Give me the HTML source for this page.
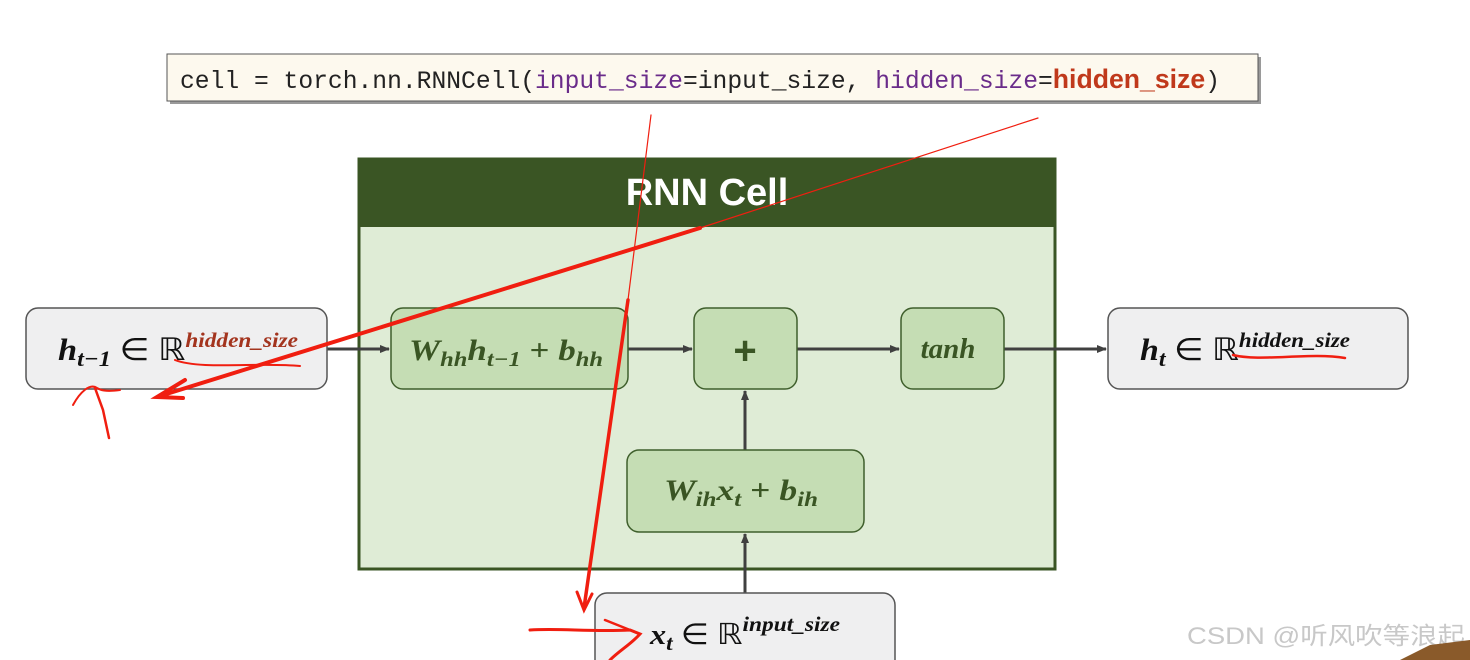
<!DOCTYPE html>
<html><head><meta charset="utf-8"><style>
html,body{margin:0;padding:0;background:#fff;width:1470px;height:660px;overflow:hidden}
svg{display:block}
.m{font-family:"Liberation Serif",serif;font-weight:bold;font-style:italic}
</style></head><body>
<svg width="1470" height="660" viewBox="0 0 1470 660" xmlns="http://www.w3.org/2000/svg">
<defs>
<marker id="ar" markerWidth="10" markerHeight="10" refX="9" refY="5" orient="auto" markerUnits="userSpaceOnUse"><path d="M0,1 L10,5 L0,9 Z" fill="#404040"/></marker>
</defs>
<rect x="170" y="57" width="1091" height="47" fill="#9a9a9a"/>
<rect x="167" y="54" width="1091" height="47" fill="#fdf9ee" stroke="#555" stroke-width="1"/>
<text x="180" y="88" font-family="'Liberation Mono',monospace" font-size="25" fill="#222" textLength="1040" lengthAdjust="spacingAndGlyphs">cell = torch.nn.RNNCell(<tspan fill="#6a2c8a">input_size</tspan>=input_size, <tspan fill="#6a2c8a">hidden_size</tspan>=<tspan fill="#c0391b" font-family="'Liberation Sans',sans-serif" font-weight="bold" font-size="27">hidden_size</tspan>)</text>
<rect x="359" y="159" width="696" height="410" fill="#dfecd6" stroke="#3a5524" stroke-width="3"/>
<rect x="359" y="159" width="696" height="68" fill="#3a5524"/>
<text x="707" y="205" text-anchor="middle" font-family="'Liberation Sans',sans-serif" font-weight="bold" font-size="38" fill="#fff">RNN Cell</text>
<g stroke="#404040" stroke-width="3" fill="none">
<line x1="327" y1="349" x2="389" y2="349" marker-end="url(#ar)"/>
<line x1="628" y1="349" x2="692" y2="349" marker-end="url(#ar)"/>
<line x1="797" y1="349" x2="899" y2="349" marker-end="url(#ar)"/>
<line x1="1004" y1="349" x2="1106" y2="349" marker-end="url(#ar)"/>
<line x1="745" y1="450" x2="745" y2="391" marker-end="url(#ar)"/>
<line x1="745" y1="593" x2="745" y2="534" marker-end="url(#ar)"/>
</g>
<g stroke-width="1.5">
<rect x="26" y="308" width="301" height="81" rx="12" fill="#efeff0" stroke="#555"/>
<rect x="1108" y="308" width="300" height="81" rx="12" fill="#efeff0" stroke="#555"/>
<rect x="595" y="593" width="300" height="90" rx="12" fill="#efeff0" stroke="#555"/>
<rect x="391" y="308" width="237" height="81" rx="12" fill="#c5ddb4" stroke="#3f5f2c"/>
<rect x="694" y="308" width="103" height="81" rx="12" fill="#c5ddb4" stroke="#3f5f2c"/>
<rect x="901" y="308" width="103" height="81" rx="12" fill="#c5ddb4" stroke="#3f5f2c"/>
<rect x="627" y="450" width="237" height="82" rx="12" fill="#c5ddb4" stroke="#3f5f2c"/>
</g>
<text class="m" x="58" y="360" font-size="31" fill="#111" textLength="240" lengthAdjust="spacingAndGlyphs">h<tspan font-size="22" dy="6">t−1</tspan><tspan dy="-6" font-style="normal" font-weight="normal"> ∈ ℝ</tspan><tspan font-size="21" dy="-13" fill="#a3341e">hidden_size</tspan></text>
<text class="m" x="1140" y="360" font-size="31" fill="#111" textLength="210" lengthAdjust="spacingAndGlyphs">h<tspan font-size="22" dy="6">t</tspan><tspan dy="-6" font-style="normal" font-weight="normal"> ∈ ℝ</tspan><tspan font-size="21" dy="-13">hidden_size</tspan></text>
<text class="m" x="650" y="644" font-size="29" fill="#111" textLength="190" lengthAdjust="spacingAndGlyphs">x<tspan font-size="21" dy="6">t</tspan><tspan dy="-6" font-style="normal" font-weight="normal"> ∈ ℝ</tspan><tspan font-size="21" dy="-13">input_size</tspan></text>
<text class="m" x="409" y="360" font-size="30" fill="#3a5524" textLength="194" lengthAdjust="spacingAndGlyphs">W<tspan font-size="21" dy="6">hh</tspan><tspan dy="-6">h</tspan><tspan font-size="21" dy="6">t−1</tspan><tspan dy="-6" font-style="normal"> + </tspan>b<tspan font-size="21" dy="6">hh</tspan></text>
<text x="745" y="364" text-anchor="middle" font-family="'Liberation Sans',sans-serif" font-weight="bold" font-size="40" fill="#3a5524">+</text>
<text class="m" x="948" y="358" text-anchor="middle" font-size="29" fill="#3a5524">tanh</text>
<text class="m" x="664" y="500" font-size="30" fill="#3a5524" textLength="154" lengthAdjust="spacingAndGlyphs">W<tspan font-size="21" dy="6">ih</tspan><tspan dy="-6">x</tspan><tspan font-size="21" dy="6">t</tspan><tspan dy="-6" font-style="normal"> + </tspan>b<tspan font-size="21" dy="6">ih</tspan></text>
<g stroke="#f01e10" fill="none" stroke-linecap="round">
<line x1="1038" y1="118" x2="700" y2="228" stroke-width="1.2"/>
<line x1="700" y1="228" x2="160" y2="396" stroke-width="4"/>
<polyline points="185,380 157,397 183,398" stroke-width="4"/>
<line x1="651" y1="115" x2="628" y2="300" stroke-width="1.2"/>
<line x1="628" y1="300" x2="584" y2="608" stroke-width="3.5"/>
<polyline points="577,592 584,610 592,594" stroke-width="3"/>
<path d="M175,360 C200,370 260,362 300,366" stroke-width="2"/>
<path d="M73,405 C80,392 90,383 97,388 C100,390 105,392 120,390" stroke-width="2"/>
<path d="M95,388 L103,410 L109,438" stroke-width="2.5"/>
<path d="M1233,355 C1260,362 1310,352 1345,358" stroke-width="2.5"/>
<path d="M530,630 C560,628 590,632 630,630 L640,634 C630,645 620,650 610,660" stroke-width="3"/>
<path d="M605,620 L635,632" stroke-width="2.5"/>
</g>
<text x="1187" y="644" font-family="'Liberation Sans','Noto Sans CJK SC',sans-serif" font-size="24" fill="#c8c8c8" textLength="278" lengthAdjust="spacingAndGlyphs">CSDN @听风吹等浪起</text>
<path d="M1400,660 L1430,645 L1470,640 L1470,660 Z" fill="#8a5a2a"/>
</svg>
</body></html>
